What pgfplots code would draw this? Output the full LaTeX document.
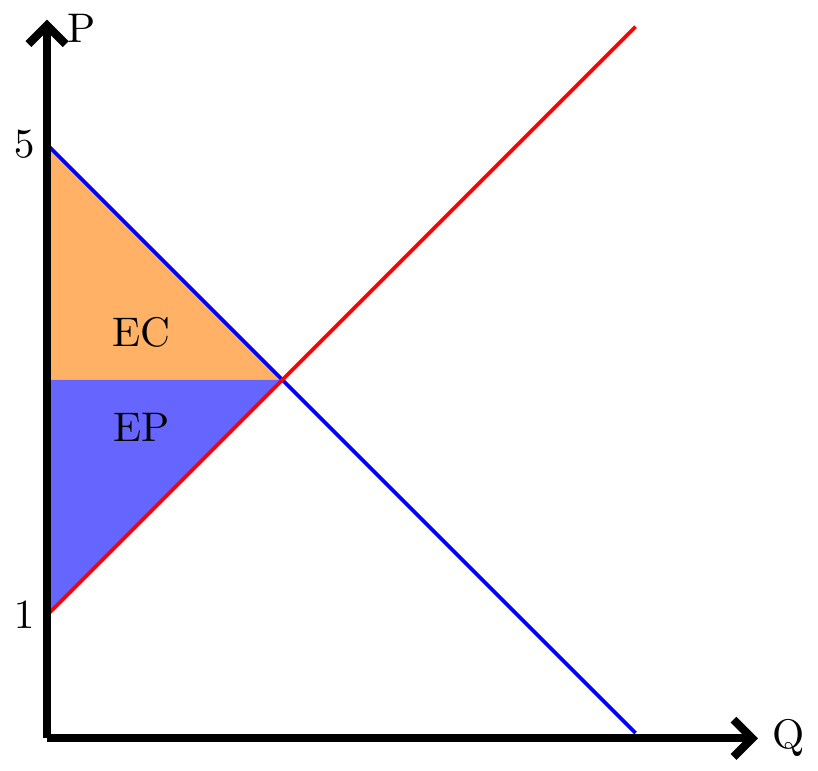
\documentclass[border=0pt]{standalone}
\usepackage{pgfplots}
\pgfplotsset{compat=1.18}
\usetikzlibrary{arrows.meta}
\begin{document}
\begin{tikzpicture}
\begin{axis}[
  x=1cm, y=1cm,
  xmin=0, xmax=6.04, ymin=-0.045, ymax=6.06,
  axis lines=left,
  axis line style={line width=2pt, -{Straight Barb[length=4.5pt,width=9pt,line width=2pt]}},
  xtick=\empty, ytick={1,5},
  major tick length=0pt,
  yticklabel style={xshift=0.5pt},
  clip=false,
  axis on top,
]
\addplot[fill=orange!60, draw=none] coordinates {(0,5) (2,3) (0,3)} -- cycle;
\addplot[fill=blue!60, draw=none] coordinates {(0,3) (2,3) (0,1)} -- cycle;
\addplot[blue, line width=0.9pt] coordinates {(0,5) (5,0)};
\addplot[red, line width=0.9pt] coordinates {(0,1) (5,6)};
\node at (axis cs:0.8,3.4) {EC};
\node at (axis cs:0.8,2.6) {EP};
\node[anchor=west, xshift=1pt] at (axis cs:6,-0.045) {Q};
\node[anchor=west] at (axis cs:0.05,5.99) {P};
\end{axis}
\end{tikzpicture}
\end{document}
